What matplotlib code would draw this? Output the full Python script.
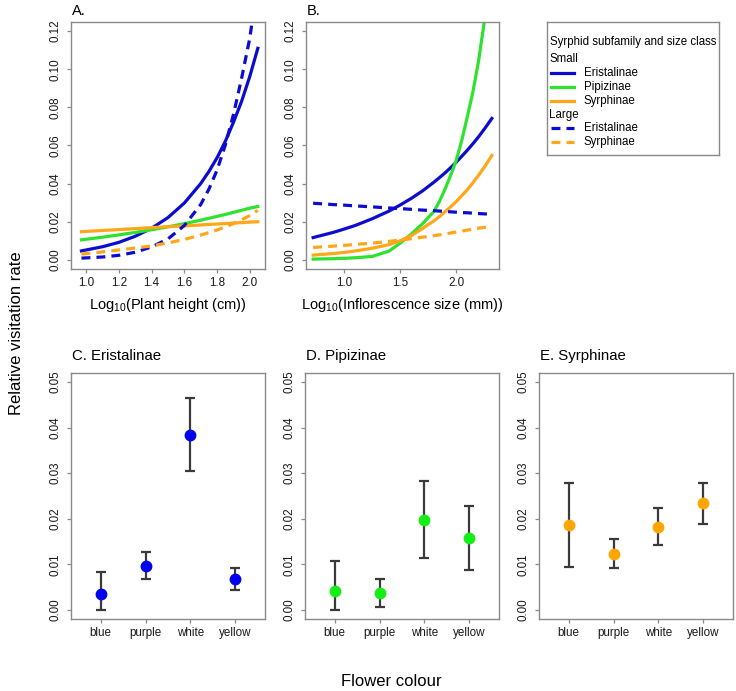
import numpy as np
import matplotlib
matplotlib.use('Agg')
import matplotlib.pyplot as plt

plt.rcParams['font.family'] = ['Liberation Sans', 'DejaVu Sans']
plt.rcParams['mathtext.default'] = 'regular'

# panel A: plant height
xa = [0.97, 1.1, 1.2, 1.3, 1.4, 1.5, 1.6, 1.7, 1.75, 1.8, 1.85, 1.9, 1.95, 2.0, 2.05]
a_eri_small = [0.0047, 0.0069, 0.0092, 0.0124, 0.0166, 0.0222, 0.0298, 0.040, 0.0463, 0.0535, 0.062, 0.072, 0.083, 0.096, 0.111]
a_pip_small = [0.0105, 0.0119, 0.0131, 0.0144, 0.0158, 0.0173, 0.019, 0.0208, 0.0218, 0.0228, 0.0238, 0.0249, 0.026, 0.0271, 0.028]
a_syr_small = [0.0148, 0.0154, 0.0159, 0.0164, 0.0169, 0.0174, 0.0178, 0.0183, 0.0186, 0.0188, 0.019, 0.0193, 0.0195, 0.0198, 0.020]
a_eri_large = [0.0009, 0.0015, 0.0024, 0.004, 0.0068, 0.011, 0.018, 0.029, 0.037, 0.047, 0.060, 0.076, 0.095, 0.116, 0.145]
a_syr_large = [0.003, 0.0042, 0.0052, 0.0062, 0.0073, 0.0089, 0.0107, 0.013, 0.0143, 0.0157, 0.0172, 0.019, 0.021, 0.0232, 0.026]

# panel B: inflorescence size
xb = [0.72, 0.9, 1.0, 1.1, 1.25, 1.4, 1.5, 1.6, 1.7, 1.8, 1.85, 1.9, 1.95, 2.0,
      2.05, 2.1, 2.15, 2.2, 2.26, 2.32]
b_eri_small = [0.0117, 0.0144, 0.0162, 0.0181, 0.0216, 0.0256, 0.0288, 0.0323, 0.0362, 0.0407, 0.0431, 0.0456, 0.0483, 0.0512,
               0.0543, 0.0575, 0.0609, 0.0645, 0.0692, 0.0742]
b_pip_small = [0.0004, 0.0006, 0.0008, 0.0011, 0.0018, 0.0046, 0.0088, 0.0136, 0.019, 0.0253, 0.0305, 0.037, 0.0442, 0.052,
               0.0625, 0.075, 0.088, 0.104, 0.128, 0.16]
b_syr_small = [0.0025, 0.0033, 0.0039, 0.0047, 0.0061, 0.008, 0.010, 0.0127, 0.0165, 0.0204, 0.0227, 0.0252, 0.0278, 0.0305,
               0.0336, 0.0368, 0.0404, 0.0443, 0.0492, 0.0548]
b_eri_large = [0.0297, 0.029, 0.0287, 0.0283, 0.0278, 0.0272, 0.0269, 0.0265, 0.0261, 0.0258, 0.0256, 0.0254, 0.0252, 0.025,
               0.0248, 0.0247, 0.0245, 0.0243, 0.0241, 0.0239]
b_syr_large = [0.0065, 0.0072, 0.0076, 0.0081, 0.0088, 0.0097, 0.0104, 0.0111, 0.0119, 0.0127, 0.0131, 0.0136, 0.0141, 0.0146,
               0.0151, 0.0156, 0.0161, 0.0166, 0.0171, 0.0176]

# panels C-E: flower colour
colours = ['blue', 'purple', 'white', 'yellow']
eri_mean = [0.0034, 0.0097, 0.0385, 0.0068]
eri_lo = [0.0, 0.0067, 0.0304, 0.0043]
eri_hi = [0.0083, 0.0127, 0.0465, 0.0092]
pip_mean = [0.0042, 0.0038, 0.0198, 0.0157]
pip_lo = [0.0, 0.0006, 0.0114, 0.0088]
pip_hi = [0.0107, 0.0068, 0.0283, 0.0227]
syr_mean = [0.0186, 0.0123, 0.0182, 0.0234]
syr_lo = [0.0094, 0.0091, 0.0142, 0.0189]
syr_hi = [0.0279, 0.0155, 0.0223, 0.0279]

BLUE = '#0c0cd0'
GREEN = '#2ee22e'
ORANGE = '#ffa61a'
PT_BLUE = '#0000f0'
PT_GREEN = '#14ee14'
PT_ORANGE = '#ffa500'
GRAY = '#8a8a8a'

W, H = 736, 691
fig = plt.figure(figsize=(W / 100, H / 100), dpi=100)


def px_axes(l, t, r, b):
    return fig.add_axes([l / W, 1 - b / H, (r - l) / W, (b - t) / H])


def style(ax):
    for s in ax.spines.values():
        s.set_color(GRAY)
        s.set_linewidth(1.0)
    ax.tick_params(color=GRAY, length=3, width=0.9, labelsize=8.4, labelcolor='#1a1a1a')
    ax.tick_params(axis='y', pad=3.5)
    ax.tick_params(axis='x', pad=2.5)
    for lab in ax.get_yticklabels():
        lab.set_rotation(90)
        lab.set_va('center')


lw = 2.3
dash = (0, (2.8, 1.9))

axA = px_axes(71, 22, 265, 269)
axA.plot(xa, a_eri_small, color=BLUE, lw=lw)
axA.plot(xa, a_pip_small, color=GREEN, lw=lw)
axA.plot(xa, a_syr_small, color=ORANGE, lw=lw)
axA.plot(xa, a_eri_large, color=BLUE, lw=lw, ls=dash)
axA.plot(xa, a_syr_large, color=ORANGE, lw=lw, ls=dash)
axA.set_xlim(0.906, 2.094)
axA.set_xticks([1.0, 1.2, 1.4, 1.6, 1.8, 2.0])
axA.set_xticklabels(['1.0', '1.2', '1.4', '1.6', '1.8', '2.0'])
axA.set_ylim(-0.0048, 0.1248)
axA.set_yticks(np.arange(0, 0.121, 0.02))
axA.set_yticklabels(['%.2f' % v for v in np.arange(0, 0.121, 0.02)])
style(axA)

axB = px_axes(306, 22, 499, 269)
axB.plot(xb, b_eri_small, color=BLUE, lw=lw)
axB.plot(xb, b_pip_small, color=GREEN, lw=lw)
axB.plot(xb, b_syr_small, color=ORANGE, lw=lw)
axB.plot(xb, b_eri_large, color=BLUE, lw=lw, ls=dash)
axB.plot(xb, b_syr_large, color=ORANGE, lw=lw, ls=dash)
axB.set_xlim(0.656, 2.384)
axB.set_xticks([1.0, 1.5, 2.0])
axB.set_xticklabels(['1.0', '1.5', '2.0'])
axB.set_ylim(-0.0048, 0.1248)
axB.set_yticks(np.arange(0, 0.121, 0.02))
axB.set_yticklabels(['%.2f' % v for v in np.arange(0, 0.121, 0.02)])
style(axB)

fig.text(72 / W, 1 - 11 / H, 'A.', fontsize=10.5, va='center', ha='left')
fig.text(307 / W, 1 - 11 / H, 'B.', fontsize=10.5, va='center', ha='left')
fig.text(168 / W, 1 - 305 / H, 'Log$_{10}$(Plant height (cm))', fontsize=10.5, va='center', ha='center')
fig.text(402 / W, 1 - 305 / H, 'Log$_{10}$(Inflorescence size (mm))', fontsize=10.5, va='center', ha='center')

# legend
axL = px_axes(547, 22, 719, 155)
axL.set_xlim(0, 172)
axL.set_ylim(133, 0)
axL.set_xticks([])
axL.set_yticks([])
for s in axL.spines.values():
    s.set_color(GRAY)
    s.set_linewidth(1.0)
fs = 8.3
axL.text(2.5, 19.5, 'Syrphid subfamily and size class', fontsize=fs, va='center')
axL.text(2.5, 37.3, 'Small', fontsize=fs, va='center')
axL.text(2.5, 93, 'Large', fontsize=fs, va='center')
rows = [(50.7, BLUE, '-', 'Eristalinae'), (64.7, GREEN, '-', 'Pipizinae'),
        (78.7, ORANGE, '-', 'Syrphinae'), (106.3, BLUE, dash, 'Eristalinae'),
        (120.3, ORANGE, dash, 'Syrphinae')]
for y, c, ls, lab in rows:
    axL.plot([4, 27], [y, y], color=c, lw=lw, ls=ls)
    axL.text(37, y, lab, fontsize=fs, va='center')

# bottom panels
xc = np.arange(1, 5)
bottom = [(71, 265, 'C. Eristalinae', eri_mean, eri_lo, eri_hi, PT_BLUE),
          (305, 499, 'D. Pipizinae', pip_mean, pip_lo, pip_hi, PT_GREEN),
          (539, 733, 'E. Syrphinae', syr_mean, syr_lo, syr_hi, PT_ORANGE)]
for l, r, title, m, lo, hi, col in bottom:
    ax = px_axes(l, 373, r, 619)
    m = np.array(m)
    err = [m - np.array(lo), np.array(hi) - m]
    ax.errorbar(xc, m, yerr=err, fmt='none', ecolor='#3a3a3a', elinewidth=1.6,
                capsize=3.6, capthick=1.6)
    ax.plot(xc, m, 'o', color=col, ms=7.5, mec=col, zorder=3)
    ax.set_xlim(0.34, 4.66)
    ax.set_xticks(xc)
    ax.set_xticklabels(colours)
    ax.set_ylim(-0.002, 0.052)
    ax.set_yticks(np.arange(0, 0.051, 0.01))
    ax.set_yticklabels(['%.2f' % v for v in np.arange(0, 0.051, 0.01)])
    style(ax)
    fig.text((l + 1) / W, 1 - 356 / H, title, fontsize=10.8, va='center', ha='left')

fig.text(17 / W, 1 - 333 / H, 'Relative visitation rate', fontsize=12, rotation=90,
         va='center', ha='center')
fig.text(391 / W, 1 - 681 / H, 'Flower colour', fontsize=12, va='center', ha='center')

fig.savefig('out.png', dpi=100)
